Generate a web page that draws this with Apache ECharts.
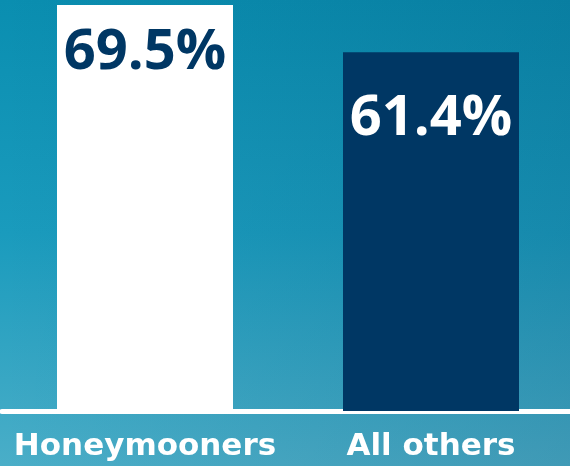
<!DOCTYPE html>
<html>
<head>
<meta charset="utf-8">
<script src="https://cdn.jsdelivr.net/npm/echarts@6/dist/echarts.min.js"></script>
<style>
html,body{margin:0;padding:0;}
#chart{width:570px;height:466px;
background:
 linear-gradient(to right, rgba(0,30,70,0) 0%, rgba(0,30,70,0.14) 100%),
 linear-gradient(to bottom, #0A8EB0 0%, #1A9BBD 50%, #4AAEC8 100%);
}
</style>
</head>
<body>
<div id="chart"></div>
<script>
const categories = ['Honeymooners', 'All others'];
const values = [69.5, 61.4];
const barColors = ['#FFFFFF', '#003764'];
const labelColors = ['#003764', '#FFFFFF'];
const labelDistances = [20, 39];

const chart = echarts.init(document.getElementById('chart'), null, {renderer: 'canvas'});
chart.setOption({
  backgroundColor: 'transparent',
  animation: false,
  grid: {left: 2, width: 572, top: 5, bottom: 55, containLabel: false, outerBoundsMode: 'none'},
  xAxis: {
    type: 'category',
    data: categories,
    offset: 3,
    axisLine: {show: true, lineStyle: {color: '#FFFFFF', width: 5}},
    axisTick: {show: false},
    axisLabel: {
      interval: 0,
      color: '#FFFFFF',
      fontFamily: 'DejaVu Sans',
      fontWeight: 'bold',
      fontSize: 31,
      margin: 17
    }
  },
  yAxis: {
    type: 'value',
    min: 0,
    max: 69.5,
    show: false,
    splitLine: {show: false}
  },
  series: [{
    type: 'bar',
    barWidth: 176,
    data: values.map((v, i) => ({
      value: v,
      itemStyle: {color: barColors[i]},
      label: {
        show: true,
        position: 'insideTop',
        distance: labelDistances[i],
        color: labelColors[i],
        formatter: p => p.value.toFixed(1) + '%',
        fontFamily: 'Open Sans',
        fontWeight: 'bold',
        fontSize: 56,
        lineHeight: 56
      }
    }))
  }]
});
</script>
</body>
</html>
